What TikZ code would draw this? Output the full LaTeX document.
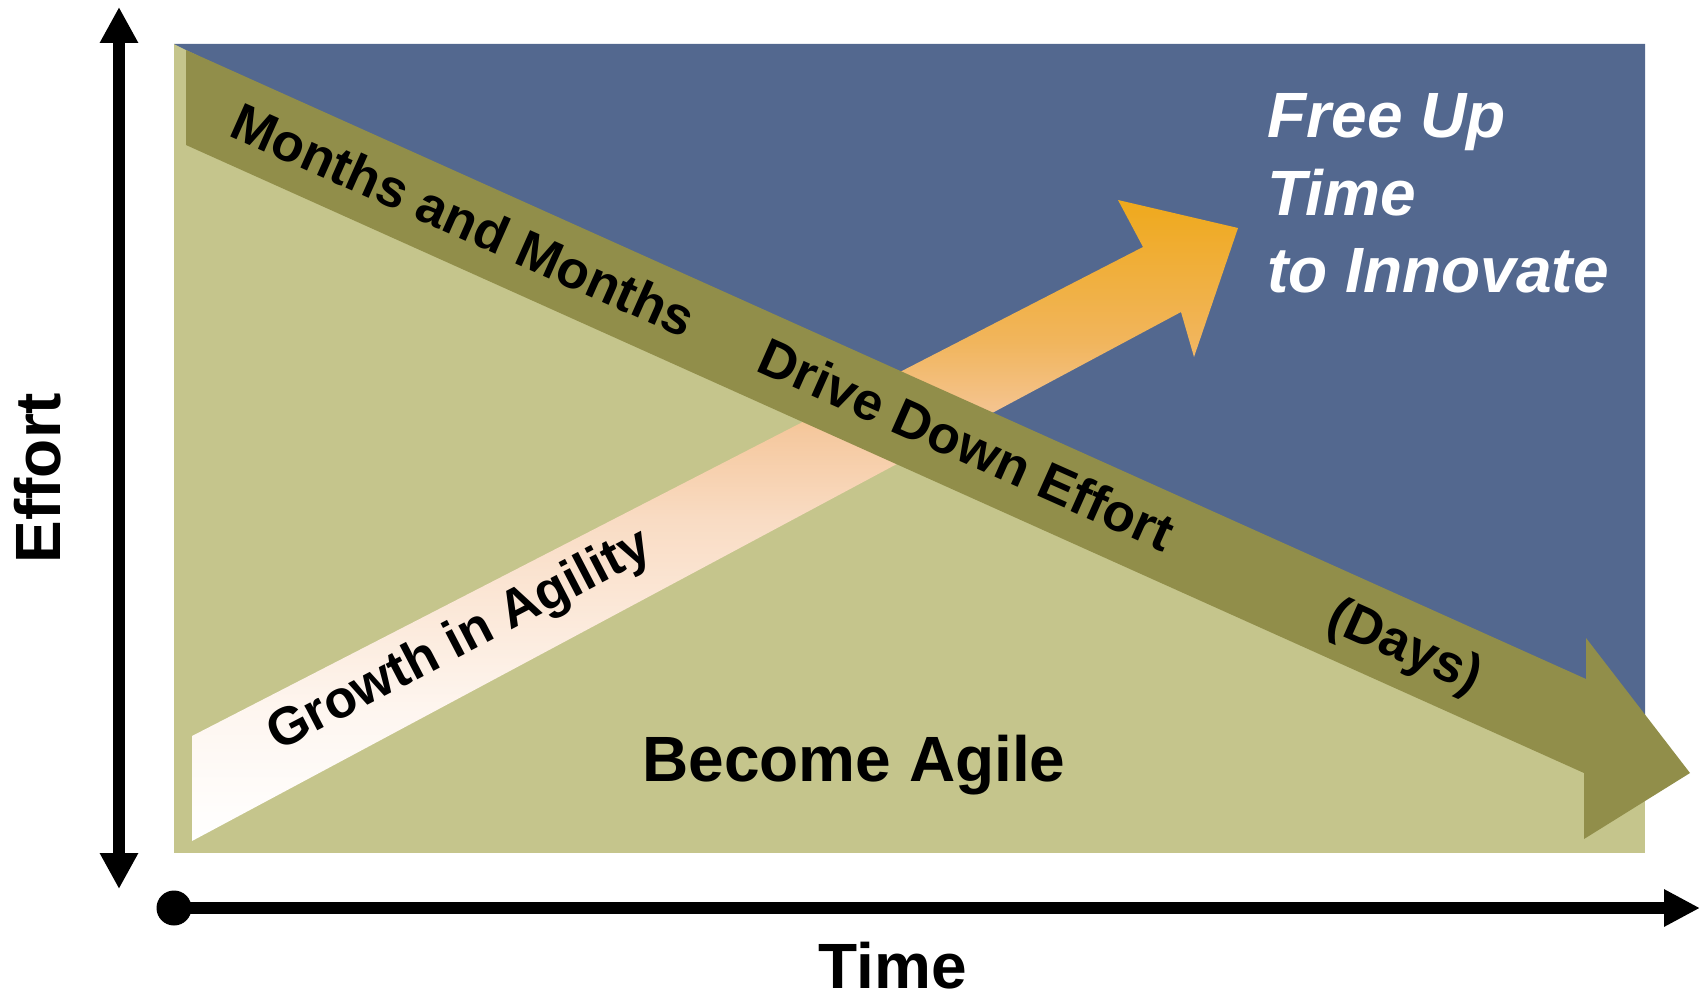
\documentclass[tikz,border=0pt]{standalone}
\usepackage{fontspec}
\setmainfont{Liberation Sans}
\usepackage{tikz}
\usetikzlibrary{arrows.meta}
\definecolor{effortblue}{HTML}{53688F}
\definecolor{agilegreen}{HTML}{C5C58C}
\definecolor{driveolive}{HTML}{918E4A}
\definecolor{agilityorange}{HTML}{EFA91C}
\definecolor{agilityA}{HTML}{FEF6F0}
\definecolor{agilityB}{HTML}{F9DCC4}
\definecolor{agilityC}{HTML}{F5C89E}
\definecolor{agilityD}{HTML}{F1B55C}
\pgfdeclareverticalshading{agility}{100bp}{color(0bp)=(white); color(25bp)=(white);
  color(35bp)=(agilityA); color(50bp)=(agilityB); color(57bp)=(agilityC);
  color(64bp)=(agilityD); color(75bp)=(agilityorange); color(100bp)=(agilityorange)}

\begin{document}
\begin{tikzpicture}[x=0.5pt,y=-0.5pt,
  axis/.style={line width=6pt},
  bigtext/.style={inner sep=0pt, font=\bfseries\fontsize{32}{38}\selectfont},
  bandtext/.style={inner sep=0pt, anchor=base west, font=\bfseries\fontsize{26.5}{31}\selectfont},
  freetext/.style={inner sep=0pt, anchor=base west, text=white, font=\bfseries\itshape\fontsize{32}{38}\selectfont}]
\useasboundingbox (0,0) rectangle (1701,995);

% chart area
\fill[agilegreen] (174,44) rectangle (1645,853);
\fill[effortblue] (174,44) -- (1645,44) -- (1645,770) -- cycle;

% growth arrow
\shade[shading=agility] (192,736) -- (1143,247) -- (1118,200) -- (1238,228)
  -- (1194,357) -- (1181,312) -- (192,841) -- cycle;

% effort arrow
\fill[driveolive] (186,50) -- (1586,679) -- (1586,638) -- (1690,773)
  -- (1584,839) -- (1584,773) -- (186,145) -- cycle;

\node[bandtext, rotate=-24] (months) at (227,135) {Months and Months};
\node[bandtext, rotate=-24] (drive) at (754,370) {Drive Down Effort};
\node[bandtext, rotate=-24] (days) at (1324,628) {(Days)};
\node[bandtext, rotate=27.5] (growth) at (278,752) {Growth in Agility};

\node[freetext] (free1) at (1267,138) {Free Up};
\node[freetext] (free2) at (1267,215) {Time};
\node[freetext] (free3) at (1267,292) {to Innovate};

\node[bigtext, anchor=base] (agile) at (854,781) {Become Agile};
\node[bigtext, anchor=base] (time) at (893,988) {Time};
\node[bigtext, anchor=base, rotate=90] (effort) at (60,478) {Effort};

% axes
\coordinate (efforttop) at (119,7);
\coordinate (effortbottom) at (119,889);
\draw[axis, {Triangle[length=18pt,width=18pt]}-{Triangle[length=18pt,width=18pt]}]
  (efforttop) -- (effortbottom);

\node[circle, fill=black, minimum size=17.5pt, inner sep=0pt] (origin) at (174,908) {};
\coordinate (timeend) at (1700,908);
\draw[axis, -{Triangle[length=18pt,width=17.5pt]}] (origin.center) -- (timeend);
\end{tikzpicture}
\end{document}
